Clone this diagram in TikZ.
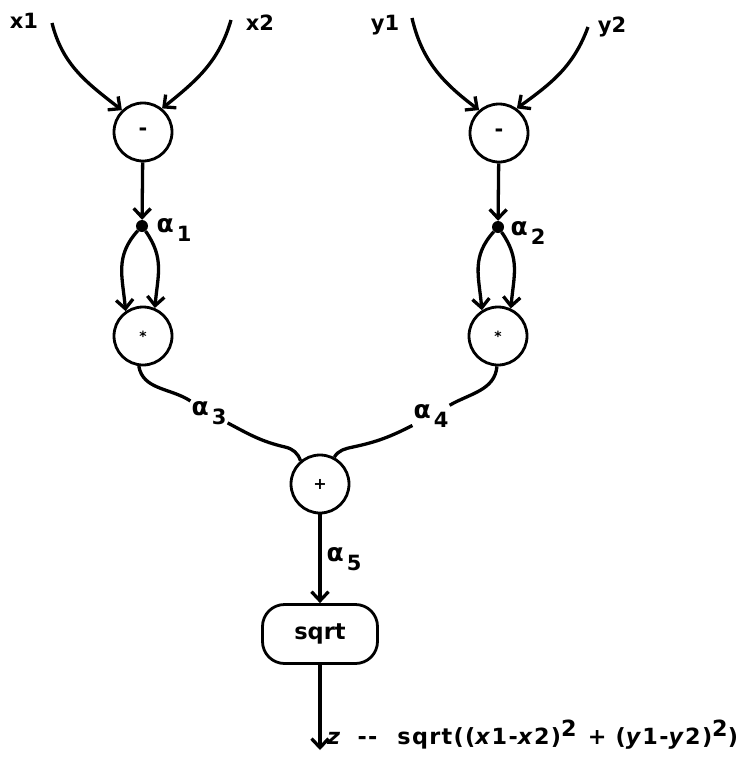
\documentclass[tikz,border=0pt]{standalone}
\usepackage{fontspec}
\setmainfont{DejaVu Sans}[BoldFont={DejaVu Sans Bold},ItalicFont={DejaVu Sans Oblique},BoldItalicFont={DejaVu Sans Bold Oblique}]
\newfontfamily\spacedfont{DejaVu Sans}[BoldFont={DejaVu Sans Bold},ItalicFont={DejaVu Sans Oblique},BoldItalicFont={DejaVu Sans Bold Oblique},LetterSpace=6]
\usetikzlibrary{arrows.meta}
\newcommand{\alf}{{\fontsize{25}{25}\selectfont α}}
\begin{document}
\begin{tikzpicture}[x=1pt,y=1pt,
  every node/.style={font=\fontsize{21}{23}\selectfont\bfseries},
  op/.style={draw,circle,minimum size=58pt,inner sep=0pt,line width=2.8pt},
  dotnode/.style={circle,fill,minimum size=12pt,inner sep=0pt},
  lbl/.style={inner sep=1pt},
  conn/.style={line width=3.3pt},
  arr/.style={conn,-{Straight Barb[length=9pt,width=17pt]}},
]
\fill[white] (0,0) rectangle (741,-761);
\useasboundingbox (0,0) rectangle (741,-761);

% inputs
\node (x1) at (24,-21) {x1};
\node (x2) at (260,-23) {x2};
\node (y1) at (385,-25) {y1};
\node (y2) at (612,-27) {y2};
\coordinate (x1s) at (52,-23);
\coordinate (x2s) at (231,-20);
\coordinate (y1s) at (412,-18);
\coordinate (y2s) at (588,-27);

% operators
\node[op] (m1) at (143,-132) {-};
\node[op] (m2) at (499,-133) {-};
\node[dotnode] (d1) at (142,-226) {};
\node[dotnode] (d2) at (498,-227) {};
\node[op,font=\fontsize{14}{15}\selectfont\bfseries] (s1) at (143,-336) {*};
\node[op,font=\fontsize{14}{15}\selectfont\bfseries] (s2) at (498,-336) {*};
\node[op,font=\fontsize{16}{17}\selectfont\bfseries] (p) at (320,-484) {+};
\node[draw,rounded corners=22pt,minimum width=115pt,minimum height=59pt,line width=2.8pt,
      font=\fontsize{22.5}{24}\selectfont\bfseries] (sq) at (320,-634) {sqrt};
\coordinate (zend) at (320,-750);

% labels
\node[lbl] (a1) at (174,-230) {\alf\hspace{3pt}\raisebox{-9pt}{1}};
\node[lbl] (a2) at (528,-233) {\alf\hspace{3pt}\raisebox{-9pt}{2}};
\node[lbl] (a3) at (209,-413) {\alf\hspace{3pt}\raisebox{-9pt}{3}};
\node[lbl] (a4) at (431,-416) {\alf\hspace{3pt}\raisebox{-9pt}{4}};
\node[lbl] (a5) at (344,-559) {\alf\hspace{3pt}\raisebox{-9pt}{5}};
\coordinate (bL) at (285,-447);
\coordinate (bR) at (353,-447);

% connectors
\draw[arr] (x1s) to[out=-76,in=142] (m1.134);
\draw[arr] (x2s) to[out=-106,in=39] (m1.51);
\draw[arr] (y1s) to[out=-77,in=143] (m2.131);
\draw[arr] (y2s) to[out=-110,in=36] (m2.54);
\draw[arr] (m1) -- (d1);
\draw[arr] (m2) -- (d2);
\draw[arr] (d1) to[out=-132,in=95,looseness=1.1] (s1.125);
\draw[arr] (d1) to[out=-55,in=85,looseness=1.1] (s1.67);
\draw[arr] (d2) to[out=-132,in=95,looseness=1.1] (s2.122);
\draw[arr] (d2) to[out=-55,in=85,looseness=1.1] (s2.65);
\draw[conn] (s1.262) to[out=-80,in=147] (a3);
\draw[conn] (a3) to[out=-28,in=167] (bL) to[out=-13,in=108] (p.130);
\draw[conn] (s2.268) to[out=-95,in=30] (a4);
\draw[conn] (a4) to[out=207,in=12] (bR) to[out=192,in=58] (p.62);
\draw[arr] (p) -- (sq);
\draw[arr] (sq) -- (zend);

\node[anchor=base west,inner sep=0pt,font=\fontsize{22.3}{24}\spacedfont\bfseries] (res) at (327,-744)
  {\textit{z}\hspace{16pt}-{}-\hspace{20pt}sqrt((\textit{x}1-\textit{x}2)\raisebox{8pt}{2}\hspace{2pt} + (\textit{y}1-\textit{y}2)\raisebox{8pt}{2})};
\end{tikzpicture}
\end{document}
